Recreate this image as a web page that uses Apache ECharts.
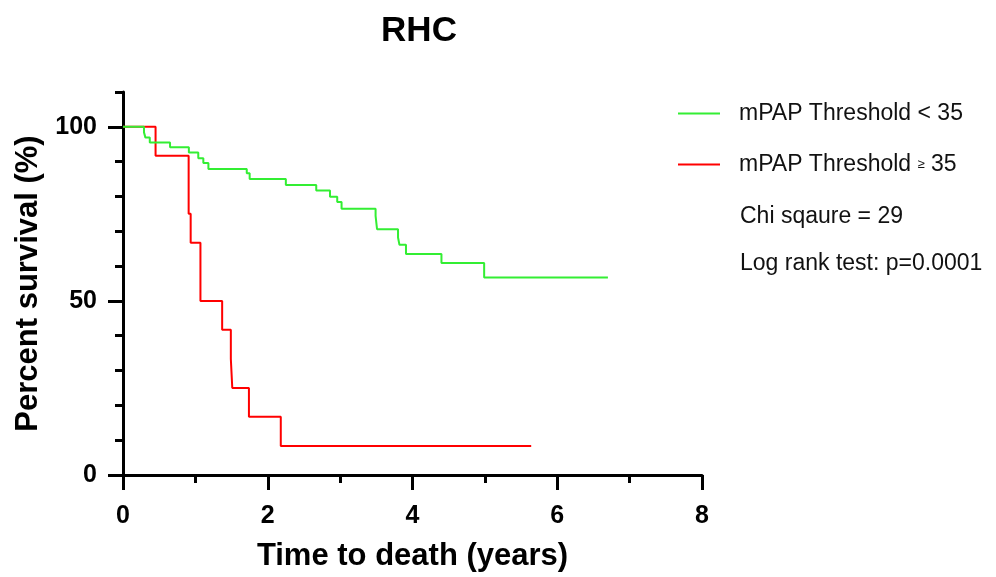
<!DOCTYPE html>
<html>
<head>
<meta charset="utf-8">
<script src="https://cdn.jsdelivr.net/npm/echarts@6/dist/echarts.min.js"></script>
<style>
  html, body { margin: 0; padding: 0; background: #fff; }
  #main { width: 996px; height: 577px; }
</style>
</head>
<body>
<div id="main"></div>
<script>
// Kaplan-Meier steps (time in years, survival in %)
const lowTime = [0, 0.29, 0.31, 0.37, 0.65, 0.91, 1.04, 1.11, 1.18, 1.71, 1.75, 2.25, 2.67, 2.86, 2.96, 3.02, 3.49, 3.51, 3.80, 3.82, 3.91, 4.40, 4.99, 6.70];
const lowSurv = [100, 98.4, 96.9, 95.5, 94.1, 92.6, 91.0, 89.6, 87.9, 86.7, 85.0, 83.3, 81.7, 79.9, 78.4, 76.5, 74.4, 70.6, 68.2, 66.1, 63.5, 60.9, 56.7, 56.7];

const highTime = [0, 0.45, 0.907, 0.935, 1.07, 1.37, 1.49, 1.51, 1.74, 2.18, 5.64];
const highSurv = [100, 91.7, 75.0, 66.7, 50.0, 41.7, 33.3, 25.0, 16.7, 8.3, 8.3];

const seriesNames = ['mPAP Threshold < 35', 'mPAP Threshold \u2265 35'];
const yMajorTicks = [0, 50, 100];
const statLines = ['Chi sqaure = 29', 'Log rank test: p=0.0001'];

const FONT = '"Liberation Sans", Arial, sans-serif';
const zip = (xs, ys) => xs.map((x, i) => [x, ys[i]]);

const chart = echarts.init(document.getElementById('main'));

const option = {
    animation: false,
    title: {
        text: 'RHC',
        left: 414,
        top: 9,
        textAlign: 'center',
        textStyle: { fontFamily: FONT, fontSize: 35, fontWeight: 'bold', color: '#000' }
    },
    grid: { left: 123, right: 294, top: 92, bottom: 102 },
    legend: {
        orient: 'vertical',
        left: 673,
        top: 97,
        icon: 'rect',
        itemWidth: 42,
        itemHeight: 2,
        itemGap: 28,
        data: seriesNames,
        formatter: name => name.replace('\u2265', '{s|\u2265}'),
        textStyle: {
            fontFamily: FONT, fontSize: 23, color: '#111', padding: [0, 0, 0, 14],
            rich: { s: { fontFamily: FONT, fontSize: 13, color: '#111' } }
        }
    },
    graphic: statLines.map((t, i) => ({
        type: 'text',
        left: 740,
        top: 205 + i * 47,
        style: { text: t, fontFamily: FONT, fontSize: 23, fill: '#111' }
    })),
    xAxis: {
        type: 'value',
        min: 0, max: 8, interval: 2,
        name: 'Time to death (years)',
        nameLocation: 'middle',
        nameGap: 66,
        nameTextStyle: { fontFamily: FONT, fontSize: 31, fontWeight: 'bold', color: '#000' },
        axisLine: { lineStyle: { color: '#000', width: 3 } },
        axisTick: { length: 15, lineStyle: { color: '#000', width: 3 } },
        minorTick: { show: true, splitNumber: 2, length: 8, lineStyle: { color: '#000', width: 3 } },
        axisLabel: { margin: 29, fontFamily: FONT, fontSize: 25, fontWeight: 'bold', color: '#000' },
        splitLine: { show: false }
    },
    yAxis: [
        {
            type: 'value',
            min: 0, max: 110, interval: 10,
            position: 'left',
            axisLine: { show: true, lineStyle: { color: '#000', width: 3 } },
            axisTick: { length: 8, lineStyle: { color: '#000', width: 3 } },
            axisLabel: { show: false },
            splitLine: { show: false }
        },
        {
            type: 'value',
            min: 0, max: 110,
            position: 'left',
            offset: 0,
            name: 'Percent survival (%)',
            nameLocation: 'middle',
            nameGap: 76,
            nameTextStyle: { fontFamily: FONT, fontSize: 31, fontWeight: 'bold', color: '#000' },
            axisLine: { show: false },
            axisTick: { show: true, customValues: yMajorTicks, length: 15, lineStyle: { color: '#000', width: 3 } },
            axisLabel: { customValues: yMajorTicks, margin: 26, fontFamily: FONT, fontSize: 25, fontWeight: 'bold', color: '#000' },
            splitLine: { show: false }
        }
    ],
    series: [
        {
            name: seriesNames[1],
            type: 'line',
            step: 'end',
            yAxisIndex: 0,
            symbol: 'none',
            data: zip(highTime, highSurv),
            lineStyle: { color: '#ff0000', width: 2 },
            itemStyle: { color: '#ff0000' }
        },
        {
            name: seriesNames[0],
            type: 'line',
            step: 'end',
            yAxisIndex: 0,
            symbol: 'none',
            data: zip(lowTime, lowSurv),
            lineStyle: { color: '#33ee33', width: 2 },
            itemStyle: { color: '#33ee33' }
        }
    ]
};

chart.setOption(option);
</script>
</body>
</html>
